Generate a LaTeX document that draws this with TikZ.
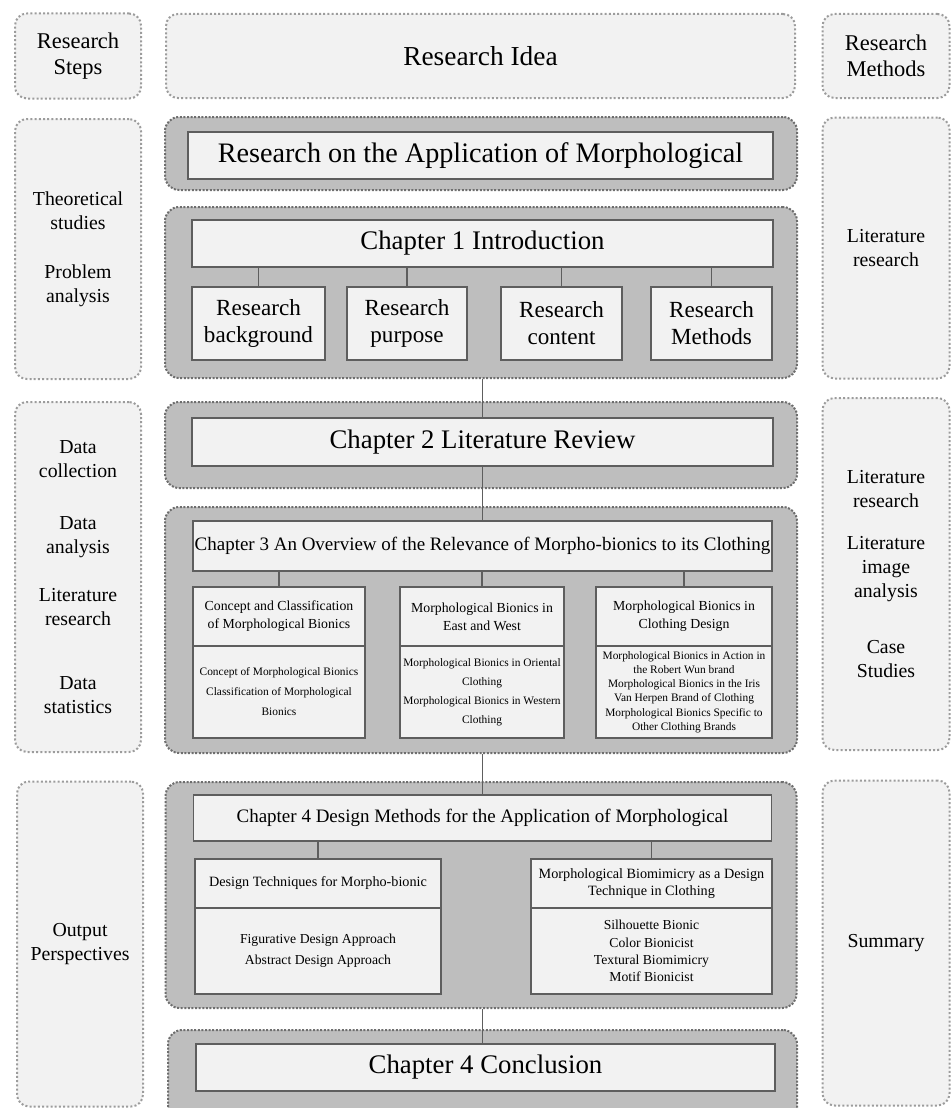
\documentclass[tikz,border=0pt]{standalone}
\usepackage{fontspec}
\setmainfont{Liberation Serif}

\definecolor{paper}{HTML}{F2F2F2}
\definecolor{panel}{HTML}{BEBEBE}
\definecolor{edge}{HTML}{5E5E5E}
\definecolor{dotlight}{HTML}{9C9C9C}
\definecolor{dotdark}{HTML}{6E6E6E}

\newcommand{\fside}{\fontsize{19.8}{24}\selectfont}
\newcommand{\fhead}{\fontsize{22.5}{26}\selectfont}
\newcommand{\fbig}{\fontsize{27.4}{30}\selectfont}
\newcommand{\fapp}{\fontsize{28.2}{31}\selectfont}
\newcommand{\fchap}{\fontsize{26.8}{29}\selectfont}
\newcommand{\fsub}{\fontsize{23.1}{27}\selectfont}
\newcommand{\flong}{\fontsize{19}{22}\selectfont}
\newcommand{\fsmallhead}{\fontsize{13.8}{18}\selectfont}
\newcommand{\fdesign}{\fontsize{14.2}{17.7}\selectfont}

\begin{document}
\begin{tikzpicture}[x=1pt,y=-1pt,wh/.style 2 args={minimum width=#1pt,minimum height=#2pt}]
    \tikzstyle{every node} = [inner sep=1pt,align=center];
    \tikzstyle{lightbox} = [draw=dotlight,fill=paper,line width=2pt,dash pattern=on 2pt off 2.2pt,rounded corners=12pt];
    \tikzstyle{graybox} = [draw=dotdark,fill=panel,line width=2pt,dash pattern=on 2pt off 1.6pt,rounded corners=14pt];
    \tikzstyle{inbox} = [draw=edge,fill=paper,line width=1.8pt];
    \tikzstyle{conn} = [draw=edge,line width=1.8pt];

    \useasboundingbox (0,0) rectangle (951,1108);

    % research steps
    \node[lightbox,wh={126}{85},font=\fhead] (stepsHead) at (78,56) {Research\\Steps};
    \node[lightbox,wh={126}{260},font=\fside] (stepsA) at (78,249) {Theoretical\\studies\\[25pt]Problem\\analysis};
    \node[lightbox,wh={126}{350},font=\fside] (stepsB) at (78,577) {Data\\collection\\[28pt]Data\\analysis\\[24pt]Literature\\research\\[40pt]Data\\statistics};
    \node[lightbox,wh={126}{325},font=\fside] (stepsC) at (80,944) {Output\\Perspectives};

    % research methods
    \node[lightbox,wh={127}{84},font=\fhead] (methHead) at (886,56) {Research\\Methods};
    \node[lightbox,wh={127}{261},font=\fside] (methA) at (886,248) {Literature\\research};
    \node[lightbox,wh={127}{352},font=\fside] (methB) at (886,574) {Literature\\research\\[18pt]Literature\\image\\analysis\\[32pt]Case\\Studies};
    \node[lightbox,wh={127}{325},font=\fside] (methC) at (886,943) {Summary};

    % idea
    \node[lightbox,wh={629}{84},font=\fbig] (idea) at (480.5,56) {Research Idea};
    \node[graybox,wh={632}{73}] (grayApp) at (481,153.5) {};
    \node[inbox,wh={585}{47},font=\fapp] (app) at (480.5,155.5) {Research on the Application of Morphological};

    % chapter 1
    \node[graybox,wh={632}{171}] (grayOne) at (481,292.5) {};
    \node[inbox,wh={581}{47},font=\fchap] (chOne) at (482.5,243.5) {Chapter 1 Introduction};
    \node[inbox,wh={133}{73},font=\fsub] (bgd) at (258.5,323.5) {Research\\background};
    \node[inbox,wh={120}{73},font=\fsub] (purp) at (407,323.5) {Research\\purpose};
    \node[inbox,wh={121}{73},font=\fsub] (cont) at (561.5,323.5) {Research\\content};
    \node[inbox,wh={121}{73},font=\fsub] (meth) at (711.5,323.5) {Research\\Methods};

    % chapter 2
    \node[graybox,wh={632}{86}] (grayTwo) at (481,445) {};
    \node[inbox,wh={581}{48},font=\fchap] (chTwo) at (482.5,442) {Chapter 2 Literature Review};

    % chapter 3
    \node[graybox,wh={632}{246}] (grayThree) at (481,630) {};
    \node[inbox,wh={579}{50},font=\flong] (chThree) at (482.5,546) {Chapter 3 An Overview of the Relevance of Morpho-bionics to its Clothing};
    \node[inbox,wh={172}{59},font=\fsmallhead] (conceptHd) at (279,616.5) {Concept and Classification\\of Morphological Bionics};
    \node[inbox,wh={172}{92},font=\fontsize{11.4}{20}\selectfont] (conceptBd) at (279,692) {Concept of Morphological Bionics\\Classification of Morphological\\Bionics};
    \node[inbox,wh={164}{59},font=\fsmallhead] (eastHd) at (482,616.5) {Morphological Bionics in\\East and West};
    \node[inbox,wh={164}{92},font=\fontsize{11.4}{19}\selectfont] (eastBd) at (482,692) {Morphological Bionics in Oriental\\Clothing\\Morphological Bionics in Western\\Clothing};
    \node[inbox,wh={176}{59},font=\fsmallhead] (clothHd) at (684,616.5) {Morphological Bionics in\\Clothing Design};
    \node[inbox,wh={176}{92},font=\fontsize{11.4}{14.2}\selectfont] (clothBd) at (684,692) {Morphological Bionics in Action in\\the Robert Wun brand\\Morphological Bionics in the Iris\\Van Herpen Brand of Clothing\\Morphological Bionics Specific to\\Other Clothing Brands};

    % chapter 4
    \node[graybox,wh={631}{226}] (grayFour) at (481,895) {};
    \node[inbox,wh={578}{46},font=\flong] (chFour) at (482.5,818) {Chapter 4 Design Methods for the Application of Morphological};
    \node[inbox,wh={246}{49},font=\fdesign] (techHd) at (318,883.5) {Design Techniques for Morpho-bionic};
    \node[inbox,wh={246}{86},font=\fontsize{13.7}{20.7}\selectfont] (techBd) at (318,951) {Figurative Design Approach\\Abstract Design Approach};
    \node[inbox,wh={241}{49},font=\fdesign] (mimicHd) at (651.5,883.5) {Morphological Biomimicry as a Design\\Technique in Clothing};
    \node[inbox,wh={241}{86},font=\fontsize{13.7}{17.3}\selectfont] (mimicBd) at (651.5,951) {Silhouette Bionic\\Color Bionicist\\Textural Biomimicry\\Motif Bionicist};

    % conclusion
    \node[graybox,wh={629}{110}] (grayFive) at (482.5,1085) {};
    \node[inbox,wh={579}{47},font=\fchap] (concl) at (485.5,1067.5) {Chapter 4 Conclusion};

    % links
    \draw[conn] (bgd.north) -- (bgd.north |- chOne.south);
    \draw[conn] (purp.north) -- (purp.north |- chOne.south);
    \draw[conn] (cont.north) -- (cont.north |- chOne.south);
    \draw[conn] (meth.north) -- (meth.north |- chOne.south);
    \draw[conn] (chTwo.north |- grayOne.south) -- (chTwo.north);
    \draw[conn] (chTwo.south) -- (chThree.north);
    \draw[conn] (conceptHd.north) -- (conceptHd.north |- chThree.south);
    \draw[conn] (eastHd.north) -- (eastHd.north |- chThree.south);
    \draw[conn] (clothHd.north) -- (clothHd.north |- chThree.south);
    \draw[conn] (chFour.north |- grayThree.south) -- (chFour.north);
    \draw[conn] (techHd.north) -- (techHd.north |- chFour.south);
    \draw[conn] (mimicHd.north) -- (mimicHd.north |- chFour.south);
    \draw[conn] (chFour.south |- grayFour.south) -- (chFour.south |- concl.north);
\end{tikzpicture}
\end{document}
